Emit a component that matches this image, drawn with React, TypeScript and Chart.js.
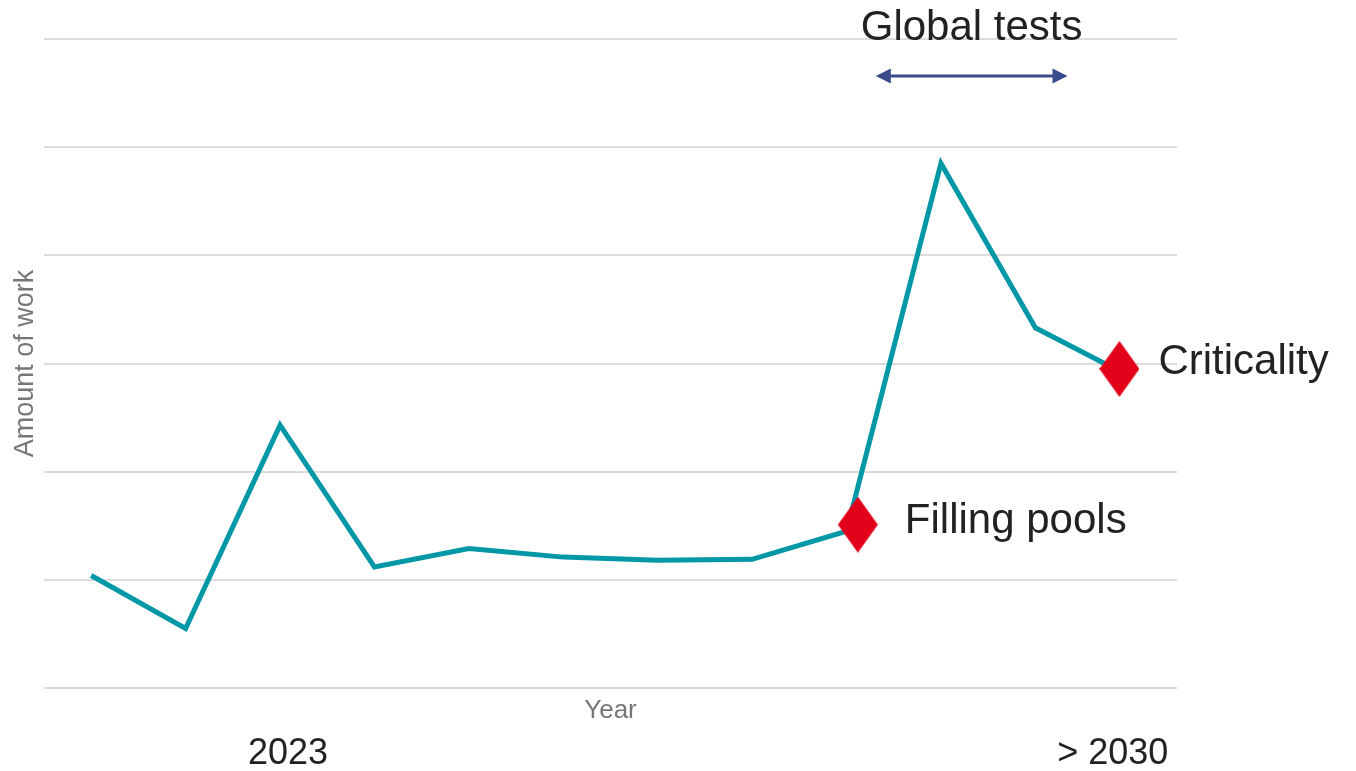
import React, { useEffect, useRef } from "react";
import { Chart, registerables } from "chart.js";

Chart.register(...registerables);

// ---- data ----
const periods: number[] = [0, 1, 2, 3, 4, 5, 6, 7, 8, 9, 10, 11];
const workAmount: number[] = [1.04, 0.55, 2.43, 1.12, 1.29, 1.21, 1.18, 1.19, 1.45, 4.85, 3.33, 2.88];

const milestoneX: number[] = [8.12, 10.89];
const milestoneY: number[] = [1.51, 2.95];
const milestoneLabels: string[] = ["Filling pools", "Criticality"];

const periodLabels: string[] = ["2023", "> 2030"];
const periodLabelX: number[] = [2.085, 10.82];

const rangeLabel = "Global tests";
const rangeStart = 8.31;
const rangeEnd = 10.34;

const FONT = "'Liberation Sans', Arial, Helvetica, sans-serif";

function makeDiamond(w: number, h: number, color: string): HTMLCanvasElement {
  const c = document.createElement("canvas");
  c.width = w;
  c.height = h;
  const ctx = c.getContext("2d")!;
  ctx.fillStyle = color;
  ctx.beginPath();
  ctx.moveTo(w / 2, 0);
  ctx.lineTo(w, h / 2);
  ctx.lineTo(w / 2, h);
  ctx.lineTo(0, h / 2);
  ctx.closePath();
  ctx.fill();
  return c;
}

const annotationPlugin = {
  id: "annotationsCustom",
  afterDraw(chart: any) {
    const ctx = chart.ctx;
    const xs = chart.scales.x;
    const ys = chart.scales.y;
    ctx.save();
    // milestone labels
    ctx.fillStyle = "#222222";
    ctx.font = `42px ${FONT}`;
    ctx.textAlign = "left";
    ctx.textBaseline = "middle";
    const labelOffsets = [47, 39];
    const labelDy = [-3, -6];
    milestoneLabels.forEach((t, i) => {
      ctx.fillText(t, xs.getPixelForValue(milestoneX[i]) + labelOffsets[i], ys.getPixelForValue(milestoneY[i]) + labelDy[i]);
    });
    // period labels below axis
    ctx.font = `36px ${FONT}`;
    ctx.textAlign = "center";
    periodLabels.forEach((t, i) => {
      ctx.fillText(t, xs.getPixelForValue(periodLabelX[i]), chart.chartArea.bottom + 66);
    });
    // range arrow
    const x1 = xs.getPixelForValue(rangeStart);
    const x2 = xs.getPixelForValue(rangeEnd);
    const ay = chart.chartArea.top + 37;
    ctx.strokeStyle = "#3b4a8a";
    ctx.fillStyle = "#3b4a8a";
    ctx.lineWidth = 3;
    ctx.beginPath();
    ctx.moveTo(x1 + 10, ay);
    ctx.lineTo(x2 - 10, ay);
    ctx.stroke();
    const hl = 15, hw = 7.5;
    ctx.beginPath();
    ctx.moveTo(x1, ay);
    ctx.lineTo(x1 + hl, ay - hw);
    ctx.lineTo(x1 + hl, ay + hw);
    ctx.closePath();
    ctx.fill();
    ctx.beginPath();
    ctx.moveTo(x2, ay);
    ctx.lineTo(x2 - hl, ay - hw);
    ctx.lineTo(x2 - hl, ay + hw);
    ctx.closePath();
    ctx.fill();
    // range label
    ctx.fillStyle = "#222222";
    ctx.font = `42px ${FONT}`;
    ctx.textAlign = "center";
    ctx.fillText(rangeLabel, (x1 + x2) / 2, chart.chartArea.top - 11);
    ctx.restore();
  },
};

export default function App() {
  const ref = useRef<HTMLCanvasElement | null>(null);
  useEffect(() => {
    document.body.style.margin = "0";
    const diamond = makeDiamond(40, 56, "#e2001a");
    const chart = new Chart(ref.current!, {
      type: "line",
      data: {
        datasets: [
          {
            label: "Amount of work",
            data: periods.map((p, i) => ({ x: p, y: workAmount[i] })),
            borderColor: "#0097a7",
            borderWidth: 5,
            pointRadius: 0,
            tension: 0,
            fill: false,
            order: 2,
          },
          {
            label: "Milestones",
            data: milestoneX.map((x, i) => ({ x, y: milestoneY[i] })),
            showLine: false,
            pointStyle: diamond as any,
            pointRadius: 20,
            order: 1,
          },
        ],
      },
      options: {
        responsive: false,
        animation: false,
        layout: { padding: { left: 0, right: 179, top: 39, bottom: 0 } },
        plugins: { legend: { display: false }, tooltip: { enabled: false } },
        scales: {
          x: {
            type: "linear",
            min: -0.5,
            max: 11.5,
            grid: { display: false },
            border: { display: false },
            ticks: { display: false },
            title: {
              display: true,
              text: "Year",
              color: "#777777",
              font: { family: FONT, size: 26 },
              padding: { top: 0, bottom: 45 },
            },
            afterFit: (s: any) => {
              s.height = 83;
            },
          },
          y: {
            min: 0,
            max: 6,
            ticks: { display: false, stepSize: 1 },
            grid: { color: "#dcdcdc", lineWidth: 2, drawTicks: false },
            border: { display: false },
            title: {
              display: true,
              text: "Amount of work",
              color: "#777777",
              font: { family: FONT, size: 27 },
              padding: { top: 9, bottom: 0 },
            },
            afterFit: (s: any) => {
              s.width = 44;
            },
          },
        },
      },
      plugins: [annotationPlugin],
    });
    return () => chart.destroy();
  }, []);
  return (
    <div style={{ position: "fixed", left: 0, top: 0, width: 1356, height: 771, background: "#fff" }}>
      <canvas ref={ref} width={1356} height={771} style={{ display: "block" }} />
    </div>
  );
}
